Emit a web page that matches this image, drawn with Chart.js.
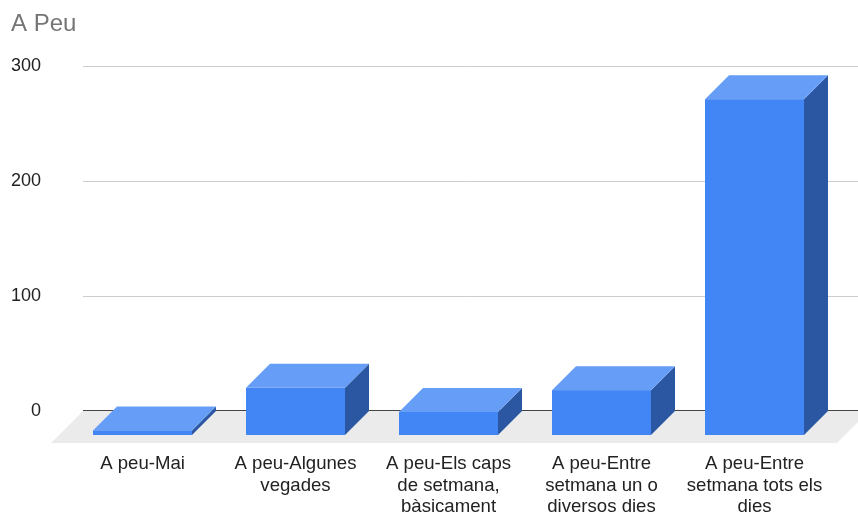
<!DOCTYPE html>
<html>
<head>
<meta charset="utf-8">
<script src="https://cdn.jsdelivr.net/npm/chart.js@4.4.1/dist/chart.umd.min.js"></script>
<style>
  html, body { margin: 0; padding: 0; background: #fff; }
</style>
</head>
<body>
<canvas id="chart" width="858" height="512"></canvas>
<script>
// data
const categories = [
  ['A peu-Mai'],
  ['A peu-Algunes', 'vegades'],
  ['A peu-Els caps', 'de setmana,', 'bàsicament'],
  ['A peu-Entre', 'setmana un o', 'diversos dies'],
  ['A peu-Entre', 'setmana tots els', 'dies']
];
const values = [4, 41, 20, 39, 292];
const yTicks = [0, 100, 200, 300];

const FONT = 'Arial, "Liberation Sans", sans-serif';
const DEPTH = 24;       // bar depth offset
const FLOOR = 32;       // floor depth

// fake 3D: floor + grid behind, boxes on top
const threeD = {
  id: 'threeD',
  beforeDatasetsDraw(chart) {
    const { ctx, chartArea: a, scales: { y } } = chart;
    const zero = y.getPixelForValue(0);
    const backLeft = a.left + 17;
    ctx.save();
    ctx.strokeStyle = '#cccccc';
    ctx.lineWidth = 1;
    for (const t of yTicks) {
      if (t === 0) continue;
      const py = Math.round(y.getPixelForValue(t)) + 0.5;
      ctx.beginPath(); ctx.moveTo(backLeft, py); ctx.lineTo(chart.width, py); ctx.stroke();
    }
    ctx.fillStyle = '#ebebeb';
    ctx.beginPath();
    ctx.moveTo(backLeft, zero);
    ctx.lineTo(a.right + 38, zero);
    ctx.lineTo(a.right + 38 - FLOOR, zero + FLOOR);
    ctx.lineTo(backLeft - FLOOR, zero + FLOOR);
    ctx.closePath();
    ctx.fill();
    ctx.strokeStyle = '#444444';
    ctx.beginPath(); ctx.moveTo(backLeft, zero - 0.5); ctx.lineTo(chart.width, zero - 0.5); ctx.stroke();
    ctx.restore();
  },
  afterDatasetsDraw(chart) {
    const { ctx } = chart;
    const meta = chart.getDatasetMeta(0);
    ctx.save();
    meta.data.forEach(bar => {
      const { x, y, base, width } = bar.getProps(['x', 'y', 'base', 'width'], true);
      const l = x - width / 2, r = x + width / 2;
      const d = DEPTH;
      // side
      ctx.fillStyle = '#2b56a2';
      ctx.beginPath();
      ctx.moveTo(r, y + d); ctx.lineTo(r + d, y); ctx.lineTo(r + d, base); ctx.lineTo(r, base + d);
      ctx.closePath(); ctx.fill();
      // top
      ctx.fillStyle = '#669df6';
      ctx.beginPath();
      ctx.moveTo(l, y + d); ctx.lineTo(r, y + d); ctx.lineTo(r + d, y); ctx.lineTo(l + d, y);
      ctx.closePath(); ctx.fill();
      // front
      ctx.fillStyle = '#4285f4';
      ctx.fillRect(l, y + d, width, base - y);
    });
    ctx.restore();
  }
};

new Chart(document.getElementById('chart'), {
  type: 'bar',
  data: {
    labels: categories,
    datasets: [{
      label: 'A Peu',
      data: values,
      backgroundColor: 'rgba(0,0,0,0)',
      barThickness: 99
    }]
  },
  options: {
    responsive: false,
    animation: false,
    layout: { padding: { left: 11, right: 27, top: 0, bottom: 0 } },
    plugins: {
      legend: { display: false },
      tooltip: { enabled: false },
      title: {
        display: true,
        text: 'A Peu',
        align: 'start',
        color: '#757575',
        font: { family: FONT, size: 24, weight: 'normal', lineHeight: 1.2 },
        padding: { top: 9.6, bottom: 27.6 }
      }
    },
    scales: {
      x: {
        grid: { display: false, drawTicks: false },
        border: { display: false },
        ticks: {
          color: '#222222',
          font: { family: FONT, size: 18.6, lineHeight: 1.156 },
          padding: 42.5,
          maxRotation: 0,
          autoSkip: false
        },
        afterFit(scale) {
          scale.height = 101;
          scale.paddingLeft = 0;
          scale.paddingRight = 0;
        }
      },
      y: {
        min: 0,
        max: 300,
        grid: { display: false, drawTicks: false },
        border: { display: false },
        ticks: {
          stepSize: 100,
          color: '#222222',
          font: { family: FONT, size: 18 },
          padding: 25
        },
        afterFit(scale) { scale.width = 55; }
      }
    }
  },
  plugins: [threeD]
});
</script>
</body>
</html>
